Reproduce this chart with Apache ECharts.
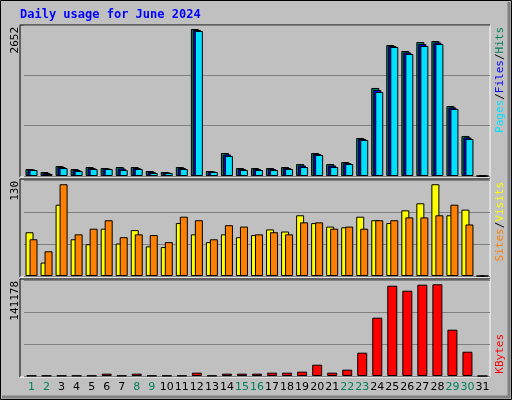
<!DOCTYPE html>
<html>
<head>
<meta charset="utf-8">
<script src="https://cdn.jsdelivr.net/npm/echarts@6/dist/echarts.min.js"></script>
<style>
  html, body { margin: 0; padding: 0; background: #c0c0c0; }
  #chart { width: 512px; height: 400px; }
</style>
</head>
<body>
<div id="chart"></div>
<script>
// days of June 2024, weekend days get the green label
var days = [];
for (var d = 1; d <= 31; d++) days.push(String(d));
var weekendDays = ['1', '2', '8', '9', '15', '16', '22', '23', '29', '30'];

var hits = [126, 72, 180, 126, 162, 144, 162, 162, 90, 72, 162, 2652, 90, 415, 144, 144,
  144, 162, 216, 415, 216, 253, 686, 1588, 2363, 2255, 2417, 2435, 1263, 722, 0];
var files = [117, 54, 162, 108, 144, 135, 135, 144, 72, 63, 144, 2634, 81, 388, 126, 126,
  126, 144, 189, 397, 189, 234, 668, 1552, 2345, 2228, 2381, 2408, 1236, 695, 0];
var pages = [108, 36, 144, 90, 126, 126, 108, 126, 54, 54, 126, 2616, 72, 361, 108, 108,
  108, 126, 162, 379, 162, 216, 650, 1516, 2327, 2201, 2345, 2381, 1209, 668, 0];

var visits = [62, 19, 101, 52, 45, 67, 46, 65, 42, 41, 75, 59, 48, 59, 55, 58,
  66, 63, 86, 75, 70, 69, 84, 79, 75, 93, 103, 130, 86, 94, 0];
var sites = [52, 35, 130, 59, 67, 79, 55, 59, 58, 48, 84, 79, 52, 72, 70, 59,
  62, 59, 76, 76, 67, 70, 67, 79, 79, 83, 83, 86, 101, 73, 0];

var kbytes = [600, 600, 600, 600, 600, 3600, 600, 3600, 600, 600, 600, 5100, 600, 3600, 3600, 3600,
  5100, 5100, 6700, 17400, 5100, 9700, 35900, 89800, 139000, 131300, 140600, 141178, 71300, 37400, 0];

var maxHits = 2724, maxVisits = 136, maxKb = 147800;

var chart = echarts.init(document.getElementById('chart'));

function yAx(idx, max) {
  return {
    gridIndex: idx, min: 0, max: max, interval: max / 3,
    axisLabel: { show: false }, axisLine: { show: false }, axisTick: { show: false },
    splitLine: { lineStyle: { color: '#808080', width: 1 } }
  };
}
function xAx(idx, showLabel) {
  return {
    gridIndex: idx, type: 'category', data: days,
    axisLine: { show: false }, axisTick: { show: false },
    axisLabel: {
      show: showLabel, interval: 0, margin: 6,
      fontFamily: 'DejaVu Sans', fontSize: 11,
      color: function (v) { return weekendDays.indexOf(v) >= 0 ? '#00805c' : '#000'; }
    }
  };
}
var bord = { borderColor: '#000', borderWidth: 1 };

function frame(y1, y2) {
  return [
    { type: 'line', shape: { x1: 20, y1: y1, x2: 490, y2: y1 }, style: { stroke: '#000', lineWidth: 1 } },
    { type: 'line', shape: { x1: 20, y1: y1, x2: 20, y2: y2 }, style: { stroke: '#000', lineWidth: 1 } },
    { type: 'line', shape: { x1: 490, y1: y1, x2: 490, y2: y2 }, style: { stroke: '#fff', lineWidth: 1 } },
    { type: 'line', shape: { x1: 20, y1: y2, x2: 490, y2: y2 }, style: { stroke: '#fff', lineWidth: 1 } }
  ];
}
function vText(x, y, rich, text) {
  return {
    type: 'text', x: x, y: y, rotation: Math.PI / 2,
    style: {
      text: text, rich: rich, align: 'right', verticalAlign: 'middle',
      fontFamily: 'DejaVu Sans Mono', fontSize: 11
    }
  };
}

var graphics = [
  { type: 'rect', shape: { x: 0.5, y: 0.5, width: 511, height: 399 }, style: { fill: null, stroke: '#000', lineWidth: 1 } },
  { type: 'line', shape: { x1: 509, y1: 2, x2: 509, y2: 398 }, style: { stroke: '#808080', lineWidth: 3 } },
  { type: 'line', shape: { x1: 2, y1: 397, x2: 510, y2: 397 }, style: { stroke: '#808080', lineWidth: 3 } },
  {
    type: 'text', x: 20, y: 15,
    style: { text: 'Daily usage for June 2024', fill: '#0000ff', fontFamily: 'DejaVu Sans Mono',
      fontWeight: 'bold', fontSize: 12, verticalAlign: 'middle' }
  },
  vText(15, 27, null, '2652'),
  vText(15, 181, null, '130'),
  vText(15, 281, null, '141178'),
  vText(500, 27, {
    p: { fill: '#00e0ff', fontSize: 11, fontFamily: 'DejaVu Sans Mono' },
    f: { fill: '#0000ff', fontSize: 11, fontFamily: 'DejaVu Sans Mono' },
    h: { fill: '#00805c', fontSize: 11, fontFamily: 'DejaVu Sans Mono' },
    s: { fill: '#000', fontSize: 11, fontFamily: 'DejaVu Sans Mono' }
  }, '{p|Pages}{s|/}{f|Files}{s|/}{h|Hits}'),
  vText(500, 182, {
    si: { fill: '#ff8000', fontSize: 11, fontFamily: 'DejaVu Sans Mono' },
    v: { fill: '#ffff00', fontSize: 11, fontFamily: 'DejaVu Sans Mono' },
    s: { fill: '#000', fontSize: 11, fontFamily: 'DejaVu Sans Mono' }
  }, '{si|Sites}{s|/}{v|Visits}'),
  vText(500, 334, { k: { fill: '#ff0000', fontSize: 11, fontFamily: 'DejaVu Sans Mono' } }, '{k|KBytes}')
].concat(frame(25, 177), frame(179, 277), frame(279, 377));

chart.setOption({
  backgroundColor: '#c0c0c0',
  animation: false,
  grid: [
    { left: 24, right: 22, top: 25, height: 151 },
    { left: 24, right: 22, top: 180, height: 96 },
    { left: 24, right: 22, top: 280, height: 96 }
  ],
  xAxis: [xAx(0, false), xAx(1, false), xAx(2, true)],
  yAxis: [yAx(0, maxHits), yAx(1, maxVisits), yAx(2, maxKb)],
  series: [
    { name: 'Hits', type: 'bar', xAxisIndex: 0, yAxisIndex: 0, data: hits, barWidth: 8, barGap: '-75%',
      itemStyle: Object.assign({ color: '#00805c' }, bord) },
    { name: 'Files', type: 'bar', xAxisIndex: 0, yAxisIndex: 0, data: files, barWidth: 8, barGap: '-75%',
      itemStyle: Object.assign({ color: '#0000ff' }, bord) },
    { name: 'Pages', type: 'bar', xAxisIndex: 0, yAxisIndex: 0, data: pages, barWidth: 8, barGap: '-75%',
      itemStyle: Object.assign({ color: '#00e0ff' }, bord) },
    { name: 'Visits', type: 'bar', xAxisIndex: 1, yAxisIndex: 1, data: visits, barWidth: 8, barGap: '-50%',
      itemStyle: Object.assign({ color: '#ffff00' }, bord) },
    { name: 'Sites', type: 'bar', xAxisIndex: 1, yAxisIndex: 1, data: sites, barWidth: 8, barGap: '-50%',
      itemStyle: Object.assign({ color: '#ff8000' }, bord) },
    { name: 'KBytes', type: 'bar', xAxisIndex: 2, yAxisIndex: 2, data: kbytes, barWidth: 10,
      itemStyle: Object.assign({ color: '#ff0000' }, bord) }
  ],
  graphic: graphics
});
</script>
</body>
</html>
